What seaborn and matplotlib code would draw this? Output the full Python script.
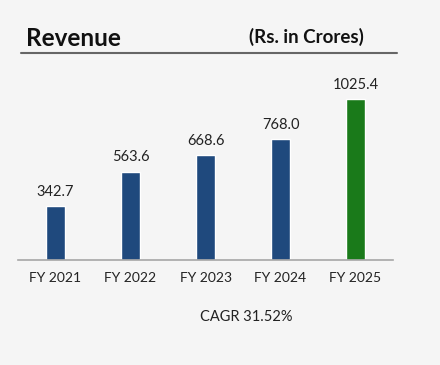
import matplotlib
matplotlib.use("Agg")
import matplotlib.pyplot as plt
import seaborn as sns
import pandas as pd
from matplotlib.lines import Line2D

# dados
anos = ["FY 2021", "FY 2022", "FY 2023", "FY 2024", "FY 2025"]
receita = [342.7, 563.6, 668.6, 768.0, 1025.4]
cores = ["#1f497d", "#1f497d", "#1f497d", "#1f497d", "#1a7a1a"]
cagr = "CAGR 31.52%"

df = pd.DataFrame({"ano": anos, "receita": receita})

sns.set_theme(style="white")
plt.rcParams['font.family'] = ['Lato', 'DejaVu Sans']

bg = "#f5f5f5"
fig = plt.figure(figsize=(4.4, 3.65), dpi=100, facecolor=bg)
ax = fig.add_axes([18/440, 105/365, 375/440, 188.4/365])
ax.set_facecolor(bg)

sns.barplot(data=df, x="ano", y="receita", hue="ano", palette=cores,
            width=0.25, legend=False, ax=ax, saturation=1)

for i, v in enumerate(receita):
    ax.text(i, v + 45, f"{v:.1f}", ha="center", va="bottom",
            fontsize=10.5, color="#222222")

ax.set_xlim(-0.5, 4.5)
ax.set_ylim(0, 1200)
ax.set_xlabel("")
ax.set_ylabel("")
ax.set_yticks([])
for s in ["top", "right", "left"]:
    ax.spines[s].set_visible(False)
ax.spines["bottom"].set_color("#a6a6a6")
ax.spines["bottom"].set_linewidth(1.2)

# ticks entre categorias
ax.set_xticks(range(len(anos)))
ax.set_xticklabels(anos, fontsize=10, color="#222222")
ax.tick_params(axis="x", which="major", length=0, pad=9)
ax.set_xticks([i - 0.5 for i in range(len(anos) + 1)], minor=True)
ax.tick_params(axis="x", which="minor", length=5, color="#a6a6a6",
               width=1.2, direction="out")

# título
fig.text(26/440, 1 - 38/365, "Revenue", fontsize=17.5, fontweight="bold",
         va="center", ha="left", color="#111111")
fig.text(306/440, 1 - 37/365, "(Rs. in Crores)", fontsize=13.5, fontweight="bold",
         va="center", ha="center", color="#111111")
fig.add_artist(Line2D([21/440, 397/440], [1 - 53/365, 1 - 53/365],
                      color="#666666", linewidth=1.5))

fig.text(246/440, 1 - 317/365, cagr, fontsize=10.5, ha="center",
         va="center", color="#222222")

fig.savefig("out.png", dpi=100, facecolor=bg)
